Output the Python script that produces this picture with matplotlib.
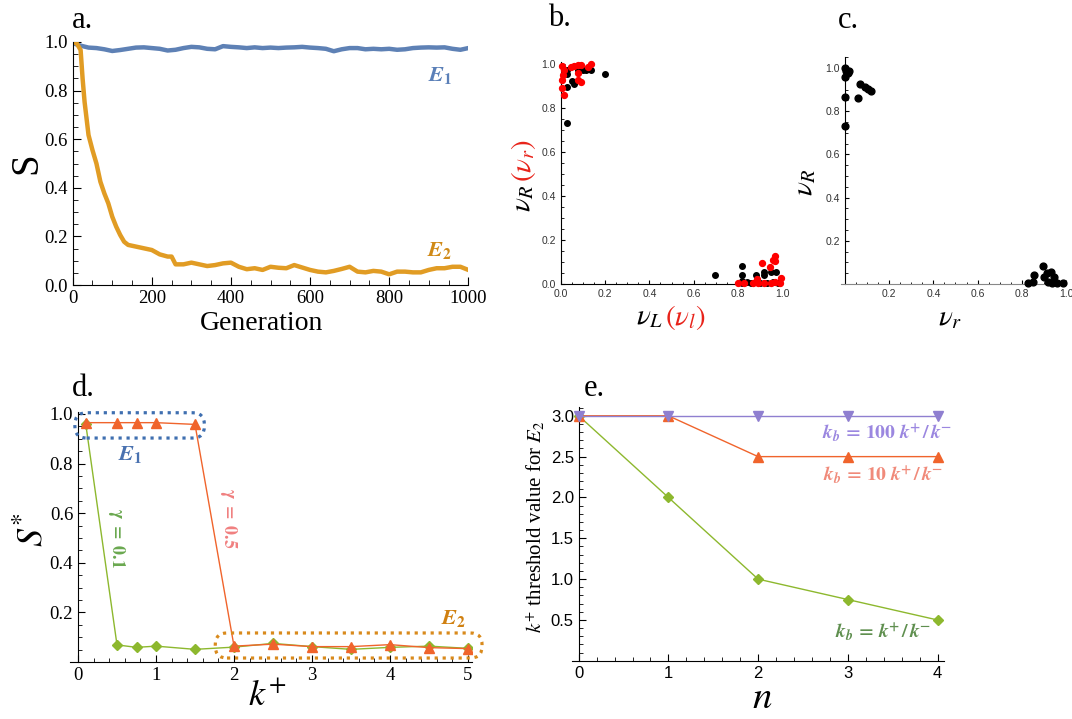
import numpy as np
import matplotlib
matplotlib.use('Agg')
import matplotlib.pyplot as plt
from matplotlib.patches import FancyBboxPatch
from matplotlib.ticker import MultipleLocator

matplotlib.rcParams['font.family'] = 'Liberation Serif'
matplotlib.rcParams['mathtext.fontset'] = 'stix'

# ---- panel a : S vs generation (read every 20 generations)
gen = list(range(0, 1001, 20))
s_e1 = [0.995, 0.985, 0.977, 0.975, 0.970, 0.963, 0.967, 0.972, 0.977, 0.978,
        0.975, 0.972, 0.965, 0.968, 0.975, 0.980, 0.978, 0.972, 0.970, 0.983,
        0.980, 0.978, 0.975, 0.978, 0.975, 0.977, 0.975, 0.977, 0.978, 0.980,
        0.977, 0.975, 0.972, 0.962, 0.970, 0.975, 0.975, 0.970, 0.972, 0.970,
        0.972, 0.968, 0.970, 0.975, 0.977, 0.978, 0.977, 0.978, 0.972, 0.968,
        0.975]
gen_e2 = [0, 10, 20, 25, 30, 40, 50, 60, 70, 80, 90, 100, 110, 120, 130, 140,
          160, 180, 200, 220, 240, 250, 260, 280, 300, 320, 340, 360, 380, 400,
          420, 440, 460, 480, 500, 520, 540, 560, 580, 600, 620, 640, 660, 680,
          700, 720, 740, 760, 780, 800, 820, 840, 860, 880, 900, 920, 940, 960,
          980, 1000]
s_e2 = [0.999, 0.995, 0.967, 0.85, 0.754, 0.617, 0.555, 0.50, 0.425, 0.377,
        0.336, 0.281, 0.24, 0.206, 0.178, 0.165, 0.158, 0.151, 0.144, 0.126,
        0.117, 0.117, 0.085, 0.085, 0.092, 0.085, 0.078, 0.082, 0.089, 0.092,
        0.075, 0.065, 0.069, 0.062, 0.075, 0.071, 0.069, 0.082, 0.072, 0.062,
        0.055, 0.052, 0.058, 0.066, 0.075, 0.055, 0.052, 0.058, 0.055, 0.044,
        0.055, 0.055, 0.052, 0.052, 0.062, 0.069, 0.069, 0.075, 0.075, 0.062]

# ---- panel b : nu_L vs nu_R (black) and nu_l vs nu_r (red)
b_black_x = [0.026, 0.026, 0.026, 0.049, 0.059, 0.076, 0.10, 0.115, 0.135, 0.197, 0.029,
             0.695, 0.818, 0.818, 0.818, 0.882, 0.92, 0.92, 0.95, 0.973,
             0.82, 0.84, 0.86, 0.90, 0.93, 0.96, 0.98]
b_black_y = [0.973, 0.955, 0.897, 0.923, 0.908, 0.973, 0.973, 0.973, 0.973, 0.955, 0.733,
             0.041, 0.082, 0.041, 0.015, 0.041, 0.056, 0.041, 0.053, 0.056,
             0.005, 0.008, 0.004, 0.006, 0.004, 0.007, 0.005]
b_red_x = [0.005, 0.008, 0.004, 0.006, 0.012, 0.045, 0.077, 0.09, 0.135, 0.12, 0.076,
           0.079, 0.091, 0.06, 0.015,
           0.908, 0.947, 0.958, 0.97, 0.97, 0.995, 0.886,
           0.80, 0.83, 0.87, 0.89, 0.92, 0.95, 0.97, 0.99]
b_red_y = [0.99, 0.95, 0.93, 0.89, 0.86, 0.988, 0.995, 0.995, 0.999, 0.985, 0.962,
           0.927, 0.92, 0.99, 0.975,
           0.094, 0.079, 0.109, 0.127, 0.105, 0.029, 0.021,
           0.004, 0.006, 0.005, 0.004, 0.006, 0.005, 0.007, 0.005]

# ---- panel c : nu_r vs nu_R
c_x = [0.0, 0.005, 0.015, 0.0, 0.02, 0.0, 0.0, 0.067, 0.06, 0.092, 0.104, 0.119,
       0.897, 0.90, 0.856, 0.826, 0.85, 0.915, 0.93, 0.945, 0.92, 0.96, 0.985, 0.935]
c_y = [0.998, 0.985, 0.975, 0.96, 0.985, 0.864, 0.733, 0.924, 0.863, 0.91, 0.904, 0.895,
       0.085, 0.031, 0.042, 0.006, 0.01, 0.049, 0.057, 0.034, 0.008, 0.006, 0.004, 0.004]

# ---- panel d : S* vs k+
kplus = [0.1, 0.5, 0.75, 1.0, 1.5, 2.0, 2.5, 3.0, 3.5, 4.0, 4.5, 5.0]
s_g01 = [0.958, 0.069, 0.059, 0.064, 0.051, 0.060, 0.075, 0.062, 0.051, 0.059, 0.064, 0.055]
s_g05 = [0.965, 0.965, 0.965, 0.965, 0.958, 0.064, 0.072, 0.062, 0.062, 0.070, 0.058, 0.054]

# ---- panel e : k+ threshold vs n
n_vals = [0, 1, 2, 3, 4]
thr_100 = [3.0, 3.0, 3.0, 3.0, 3.0]
thr_10 = [3.0, 3.0, 2.5, 2.5, 2.5]
thr_1 = [3.0, 2.0, 1.0, 0.75, 0.5]

W, H = 1072, 719
def px(x, y):
    return x / W, 1 - y / H

fig = plt.figure(figsize=(10.72, 7.19), dpi=100)

def style_axes(ax, fs, family, major=5, minor=3):
    for s in ['top', 'right']:
        ax.spines[s].set_visible(False)
    ax.tick_params(which='major', direction='in', length=major, width=0.8,
                   labelsize=fs, labelfontfamily=family)
    ax.tick_params(which='minor', direction='in', length=minor, width=0.6)

# ===== a
axa = fig.add_axes([72.7 / W, 1 - 285 / H, 395.6 / W, 243 / H])
axa.plot(gen, s_e1, color='#5E81B5', lw=3.2)
axa.plot(gen_e2, s_e2, color='#E19C24', lw=3.2)
axa.set_xlim(0, 1000)
axa.set_ylim(0, 1.0)
axa.xaxis.set_major_locator(MultipleLocator(200))
axa.xaxis.set_minor_locator(MultipleLocator(50))
axa.yaxis.set_major_locator(MultipleLocator(0.2))
axa.yaxis.set_minor_locator(MultipleLocator(0.05))
axa.yaxis.set_major_formatter(matplotlib.ticker.FormatStrFormatter('%.1f'))
style_axes(axa, 13.5, 'Liberation Serif', 6, 3.5)
axa.text(928, 0.862, r'$\mathbfit{E}_\mathbf{1}$', color='#5B80B8', fontsize=16,
         ha='center', va='center')
axa.text(928, 0.144, r'$\mathbfit{E}_\mathbf{2}$', color='#D08A18', fontsize=16,
         ha='center', va='center')
fig.text(*px(262, 324), 'Generation', fontsize=20, ha='center', va='center')
fig.text(*px(27, 163), 'S', fontsize=28, rotation=90, ha='center', va='center')
fig.text(*px(72, 20), 'a.', fontsize=22, ha='left', va='center')

# ===== b
axb = fig.add_axes([561 / W, 1 - 284 / H, 221 / W, 222 / H])
axb.scatter(b_black_x, b_black_y, s=16, color='black', zorder=3, clip_on=False)
axb.scatter(b_red_x, b_red_y, s=18, color='red', zorder=3, clip_on=False)
axb.set_xlim(0, 1.0)
axb.set_ylim(0, 1.01)
axb.xaxis.set_major_locator(MultipleLocator(0.2))
axb.xaxis.set_minor_locator(MultipleLocator(0.05))
axb.yaxis.set_major_locator(MultipleLocator(0.2))
axb.yaxis.set_minor_locator(MultipleLocator(0.05))
axb.xaxis.set_major_formatter(matplotlib.ticker.FormatStrFormatter('%.1f'))
axb.yaxis.set_major_formatter(matplotlib.ticker.FormatStrFormatter('%.1f'))
style_axes(axb, 7.5, 'Liberation Sans', 3, 1.8)
axb.tick_params(labelcolor='#333333')
fig.text(*px(663, 317), r'$\nu_L$', fontsize=21, ha='right', va='center')
fig.text(*px(665, 317), r'$(\nu_l)$', fontsize=21, color='#E8231A', ha='left', va='center')
fig.text(*px(523, 184), r'$\nu_R$', fontsize=21, rotation=90, ha='center', va='top')
fig.text(*px(523, 182), r'$(\nu_r)$', fontsize=21, rotation=90, color='#E8231A',
         ha='center', va='bottom')
fig.text(*px(548, 19), 'b.', fontsize=22, ha='left', va='center')

# ===== c
axc = fig.add_axes([840.5 / W, 1 - 284 / H, 225.5 / W, 226.8 / H])
axc.scatter(c_x, c_y, s=24, color='black', zorder=3, clip_on=False)
axc.set_xlim(-0.02, 1.0)
axc.set_ylim(0, 1.05)
axc.spines['left'].set_position(('data', 0))
axc.spines['bottom'].set_color('#888888')
axc.xaxis.set_major_locator(matplotlib.ticker.FixedLocator([0.2, 0.4, 0.6, 0.8, 1.0]))
axc.xaxis.set_minor_locator(MultipleLocator(0.05))
axc.yaxis.set_major_locator(matplotlib.ticker.FixedLocator([0.2, 0.4, 0.6, 0.8, 1.0]))
axc.yaxis.set_minor_locator(MultipleLocator(0.05))
axc.xaxis.set_major_formatter(matplotlib.ticker.FormatStrFormatter('%.1f'))
axc.yaxis.set_major_formatter(matplotlib.ticker.FormatStrFormatter('%.1f'))
style_axes(axc, 7.5, 'Liberation Sans', 3, 1.8)
axc.tick_params(labelcolor='#333333')
fig.text(*px(950, 318), r'$\nu_r$', fontsize=21, ha='center', va='center')
fig.text(*px(805, 182), r'$\nu_R$', fontsize=21, rotation=90, ha='center', va='center')
fig.text(*px(838, 20), 'c.', fontsize=22, ha='left', va='center')

# ===== d
axd = fig.add_axes([70.2 / W, 1 - 662 / H, 401.7 / W, 250.5 / H])
axd.plot(kplus, s_g01, color='#8DB82E', lw=1, marker='D', ms=5, zorder=3)
axd.plot(kplus, s_g05, color='#F0642C', lw=1, marker='^', ms=6.5, zorder=3)
axd.set_xlim(-0.1, 5.05)
axd.set_ylim(0, 1.01)
axd.spines['left'].set_position(('data', 0))
axd.xaxis.set_major_locator(MultipleLocator(1))
axd.xaxis.set_minor_locator(MultipleLocator(0.2))
axd.yaxis.set_major_locator(matplotlib.ticker.FixedLocator([0.2, 0.4, 0.6, 0.8, 1.0]))
axd.yaxis.set_minor_locator(MultipleLocator(0.05))
axd.yaxis.set_major_formatter(matplotlib.ticker.FormatStrFormatter('%.1f'))
style_axes(axd, 13.5, 'Liberation Serif', 5, 3)
asp = (401.7 / 5.15) / (250.5 / 1.01)
box1 = FancyBboxPatch((-0.04, 0.903), 1.66, 0.102,
                      boxstyle='round,pad=0,rounding_size=0.15', mutation_aspect=asp,
                      fill=False, ec='#3F6FB0', lw=2.3, ls=(0, (1, 1.5)), clip_on=False, zorder=4)
box2 = FancyBboxPatch((1.76, 0.016), 3.42, 0.101,
                      boxstyle='round,pad=0,rounding_size=0.15', mutation_aspect=asp,
                      fill=False, ec='#D98A1C', lw=2.3, ls=(0, (1, 1.5)), clip_on=False, zorder=4)
axd.add_patch(box1)
axd.add_patch(box2)
axd.text(0.67, 0.835, r'$\mathbfit{E}_\mathbf{1}$', color='#4A72B0', fontsize=16,
         ha='center', va='center')
axd.text(4.81, 0.177, r'$\mathbfit{E}_\mathbf{2}$', color='#D08010', fontsize=16,
         ha='center', va='center')
axd.text(0.5, 0.5, r'$\mathbf{\gamma\ =\ 0.1}$', color='#6AA84F', fontsize=13,
         rotation=-90, ha='center', va='center')
axd.text(1.93, 0.58, r'$\mathbf{\gamma\ =\ 0.5}$', color='#F08080', fontsize=13,
         rotation=-90, ha='center', va='center')
fig.text(*px(267, 697), r'$k^{+}$', fontsize=26, ha='center', va='center')
fig.text(*px(33, 530), r'$S^{*}$', fontsize=26, rotation=90, ha='center', va='center')
fig.text(*px(72, 388), 'd.', fontsize=22, ha='left', va='center')

# ===== e
axe = fig.add_axes([571.5 / W, 1 - 660.8 / H, 372.3 / W, 254 / H])
axe.plot(n_vals, thr_1, color='#8DB82E', lw=1, marker='D', ms=5.5, zorder=3, clip_on=False)
axe.plot(n_vals, thr_10, color='#F0642C', lw=1, marker='^', ms=7, zorder=3, clip_on=False)
axe.plot(n_vals, thr_100, color='#8F7FD0', lw=1, marker='v', ms=7, zorder=3, clip_on=False)
axe.set_xlim(-0.08, 4.07)
axe.set_ylim(0, 3.11)
axe.spines['left'].set_position(('data', 0))
axe.xaxis.set_major_locator(MultipleLocator(1))
axe.xaxis.set_minor_locator(MultipleLocator(0.2))
axe.yaxis.set_major_locator(matplotlib.ticker.FixedLocator([0.5, 1.0, 1.5, 2.0, 2.5, 3.0]))
axe.yaxis.set_minor_locator(MultipleLocator(0.1))
axe.yaxis.set_major_formatter(matplotlib.ticker.FormatStrFormatter('%.1f'))
style_axes(axe, 12, 'Liberation Sans', 5, 3)
axe.text(3.44, 2.79, r'$\mathbfit{k}_\mathbfit{b}\,\mathbf{=\,100}\ \mathbfit{k}^\mathbf{+}\,\mathbf{/}\,\mathbfit{k}^\mathbf{-}$',
         color='#9B87E0', fontsize=14, ha='center', va='center')
axe.text(3.39, 2.27, r'$\mathbfit{k}_\mathbfit{b}\,\mathbf{=\,10}\ \mathbfit{k}^\mathbf{+}\,\mathbf{/}\,\mathbfit{k}^\mathbf{-}$',
         color='#F08A7A', fontsize=14, ha='center', va='center')
axe.text(3.39, 0.35, r'$\mathbfit{k}_\mathbfit{b}\,\mathbf{=}\,\mathbfit{k}^\mathbf{+}\,\mathbf{/}\,\mathbfit{k}^\mathbf{-}$',
         color='#5F8F4F', fontsize=14, ha='center', va='center')
fig.text(*px(762, 699), r'$n$', fontsize=28, ha='center', va='center')
fig.text(*px(536, 527), r'$k^{+}$ threshold value for $E_2$', fontsize=15, rotation=90,
         ha='center', va='center')
fig.text(*px(584, 388), 'e.', fontsize=22, ha='left', va='center')

fig.savefig('out.png', dpi=100)
